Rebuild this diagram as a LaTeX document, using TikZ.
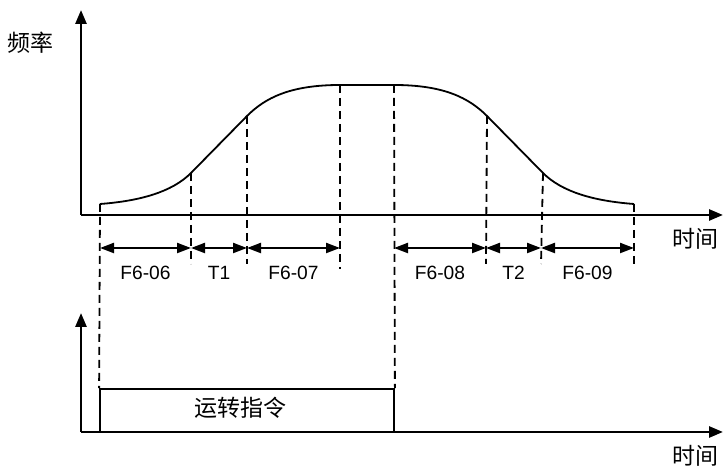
\documentclass[tikz,border=0pt]{standalone}
\usepackage{fontspec}
\setmainfont{Liberation Sans}
\newfontfamily\cjk{Noto Sans CJK SC}
\usetikzlibrary{arrows.meta, positioning, calc}

\begin{document}
\begin{tikzpicture}[x=0.5pt, y=-0.5pt,
    axis/.style={line width=1.3pt, -{Triangle[length=7pt, width=5.5pt]}},
    curve/.style={line width=0.9pt},
    guide/.style={line width=0.9pt, dash pattern=on 4pt off 2.5pt},
    span/.style={line width=1.1pt, {Triangle[length=7pt, width=5pt]}-{Triangle[length=7pt, width=5pt]}},
    tag/.style={font=\fontsize{9.6}{12}\selectfont, inner sep=0pt},
    cn/.style={font=\cjk\fontsize{11.5}{13}\selectfont, inner sep=0pt}
]
\useasboundingbox (0,0) rectangle (723,469);
% axes
\coordinate (o1) at (81,215);
\coordinate (y1) at (81,10);
\coordinate (x1) at (723,215);
\coordinate (o2) at (81,432);
\coordinate (y2) at (81,313);
\coordinate (x2) at (723,432);
\node[cn] (freq) at (31,43) {频率};
\node[cn] (time1) at (695,239) {时间};
\node[cn] (time2) at (695,456) {时间};
% curve points
\coordinate (a0) at (100,204);
\coordinate (a1) at (191,173);
\coordinate (a2) at (247,116);
\coordinate (a3) at (340,85);
\coordinate (b3) at (394,85);
\coordinate (b2) at (487,116);
\coordinate (b1) at (543,173);
\coordinate (b0) at (634,204);
\draw[curve] (a0) .. controls (140,201) and (172,192) .. (a1) -- (a2)
    .. controls (265,98) and (290,85) .. (a3) -- (b3)
    .. controls (444,85) and (469,98) .. (b2) -- (b1)
    .. controls (562,192) and (594,201) .. (b0);
\draw[axis] (o1) -- (y1);
\draw[axis] (o1) -- (x1);
% run command
\node[draw, line width=0.9pt, minimum width=147pt, minimum height=21.5pt, inner sep=0pt] (run) at (247,410.5) {};
\node[cn] (runtxt) at (240,408) {运转指令};
\draw[axis] (o2) -- (y2);
\draw[axis] (o2) -- (x2);
% guides
\coordinate (e1) at (191,264);
\coordinate (e2) at (247,264);
\coordinate (e3) at (340,269);
\coordinate (e5) at (486,264);
\coordinate (e6) at (541,264);
\coordinate (e7) at (634,268);
\draw[guide] (a0) -- (run.north west);
\draw[guide] (b3) -- (run.north east);
\draw[guide] (a1) -- (e1);
\draw[guide] (a2) -- (e2);
\draw[guide] (a3) -- (e3);
\draw[guide] (b2) -- (e5);
\draw[guide] (b1) -- (e6);
\draw[guide] (b0) -- (e7);
% spans
\coordinate (d0) at (100,248);
\coordinate (d1) at (191,248);
\coordinate (d2) at (247,248);
\coordinate (d3) at (340,248);
\coordinate (d4) at (394,248);
\coordinate (d5) at (486,248);
\coordinate (d6) at (541,248);
\coordinate (d7) at (634,248);
\draw[span] (d0) -- node[tag, yshift=-12.5pt] {F6-06} (d1);
\draw[span] (d1) -- node[tag, yshift=-12.5pt] {T1} (d2);
\draw[span] (d2) -- node[tag, yshift=-12.5pt] {F6-07} (d3);
\draw[span] (d4) -- node[tag, yshift=-12.5pt] {F6-08} (d5);
\draw[span] (d5) -- node[tag, yshift=-12.5pt] {T2} (d6);
\draw[span] (d6) -- node[tag, yshift=-12.5pt] {F6-09} (d7);
\end{tikzpicture}
\end{document}
